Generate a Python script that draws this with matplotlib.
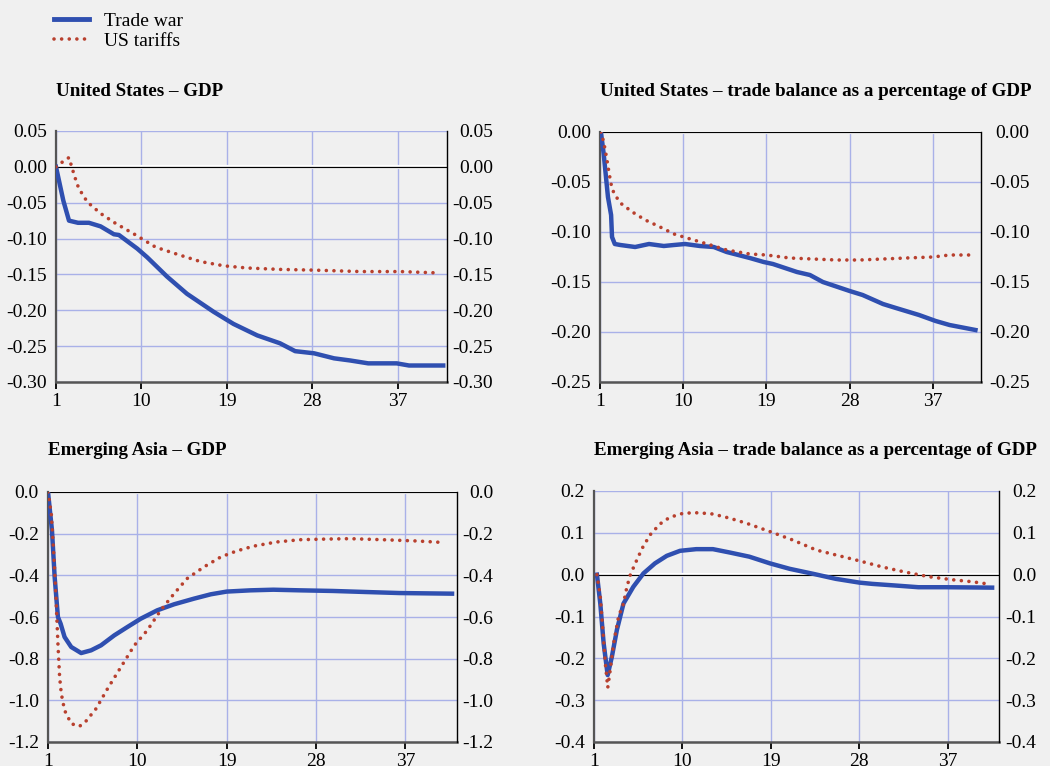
import matplotlib
matplotlib.use("Agg")
import matplotlib.pyplot as plt
from matplotlib.ticker import FixedLocator, FormatStrFormatter
from matplotlib.lines import Line2D

plt.rcParams["font.family"] = ["Liberation Serif", "DejaVu Serif"]
plt.rcParams["axes.unicode_minus"] = False

BG = "#f0f0f0"
BLUE = "#2f4fb0"
RED = "#b8402e"
GRID = "#a9b1e8"
DOTS = (0, (0.01, 2.1))

# ---- United States - GDP ------------------------------------------------
us_gdp_war_x = [1.0, 1.77, 2.37, 3.32, 4.47, 5.7, 7.1, 7.63, 9.56, 10.6, 12.7, 14.8,
                17.6, 19.7, 22.2, 24.6, 26.2, 28.2, 30.3, 32.0, 33.9, 36.9, 38.2, 41.8]
us_gdp_war_y = [0.0, -0.047, -0.075, -0.078, -0.078, -0.083, -0.094, -0.095, -0.114,
                -0.126, -0.153, -0.177, -0.202, -0.219, -0.235, -0.246, -0.257, -0.260,
                -0.267, -0.270, -0.274, -0.274, -0.277, -0.277]
us_gdp_tar_x = [1.0, 1.8, 2.37, 2.7, 3.15, 3.4, 4.3, 5.7, 7.3, 9.4, 11.5, 13.8, 16.2,
                18.7, 21.1, 24.6, 28.2, 33.1, 37.3, 41.5]
us_gdp_tar_y = [0.0, 0.008, 0.013, -0.002, -0.021, -0.030, -0.049, -0.065, -0.079,
                -0.095, -0.112, -0.122, -0.132, -0.138, -0.141, -0.143, -0.144, -0.146,
                -0.146, -0.148]

# ---- United States - trade balance ---------------------------------------
us_tb_war_x = [1.1, 1.4, 1.86, 2.2, 2.3, 2.6, 3.2, 4.8, 6.3, 7.9, 9.0, 10.2, 11.8, 13.3,
               14.7, 17.2, 18.7, 19.7, 22.3, 23.7, 25.1, 28.0, 29.4, 31.6, 33.0, 35.5,
               37.3, 38.8, 41.6]
us_tb_war_y = [0.0, -0.022, -0.065, -0.083, -0.105, -0.112, -0.113, -0.115, -0.112,
               -0.114, -0.113, -0.112, -0.114, -0.115, -0.120, -0.126, -0.130, -0.132,
               -0.140, -0.143, -0.150, -0.159, -0.163, -0.172, -0.176, -0.183, -0.189,
               -0.193, -0.198]
us_tb_tar_x = [1.1, 1.4, 1.7, 2.0, 2.3, 2.7, 3.2, 4.5, 5.9, 7.5, 9.0, 10.4, 12.6, 14.7,
               17.2, 19.0, 21.5, 24.0, 26.6, 29.1, 31.6, 34.1, 37.0, 38.8, 41.3]
us_tb_tar_y = [0.0, -0.010, -0.025, -0.042, -0.057, -0.064, -0.071, -0.080, -0.088,
               -0.095, -0.102, -0.106, -0.112, -0.118, -0.122, -0.123, -0.126, -0.127,
               -0.128, -0.128, -0.127, -0.126, -0.125, -0.123, -0.123]

# ---- Emerging Asia - GDP ----------------------------------------------------
ea_gdp_war_x = [1.0, 1.4, 1.67, 2.0, 2.27, 2.67, 3.34, 4.34, 5.34, 6.34, 7.68, 9.0,
                10.35, 12.0, 13.7, 15.7, 17.4, 19.0, 21.4, 23.7, 26.4, 29.7, 33.0, 36.4, 41.7]
ea_gdp_war_y = [0.0, -0.184, -0.408, -0.600, -0.632, -0.696, -0.744, -0.773, -0.760,
                -0.736, -0.688, -0.648, -0.608, -0.568, -0.539, -0.512, -0.491, -0.478,
                -0.472, -0.469, -0.472, -0.475, -0.480, -0.485, -0.488]
ea_gdp_tar_x = [1.0, 1.33, 1.5, 1.67, 1.83, 2.0, 2.17, 2.34, 2.67, 3.34, 4.17, 4.84, 5.84,
                7.0, 8.35, 9.7, 11.0, 12.35, 13.7, 15.0, 16.7, 18.4, 20.0, 21.7, 24.0,
                26.4, 29.0, 31.4, 34.7, 38.1, 40.7]
ea_gdp_tar_y = [0.0, -0.104, -0.232, -0.376, -0.536, -0.728, -0.888, -0.968, -1.048,
                -1.112, -1.125, -1.099, -1.040, -0.944, -0.840, -0.736, -0.664, -0.568,
                -0.488, -0.416, -0.360, -0.312, -0.283, -0.260, -0.240, -0.229, -0.226,
                -0.224, -0.229, -0.235, -0.242]

# ---- Emerging Asia - trade balance -------------------------------------------
ea_tb_war_x = [1.3, 1.64, 1.98, 2.39, 2.82, 3.33, 4.0, 5.0, 6.03, 7.2, 8.4, 9.75, 11.4,
               13.1, 14.8, 16.8, 18.9, 20.9, 23.3, 25.6, 28.0, 29.3, 31.7, 34.0, 36.8, 41.5]
ea_tb_war_y = [0.0, -0.069, -0.164, -0.240, -0.196, -0.132, -0.069, -0.029, 0.003, 0.027,
               0.045, 0.057, 0.061, 0.061, 0.053, 0.043, 0.027, 0.014, 0.002, -0.010,
               -0.019, -0.022, -0.026, -0.030, -0.030, -0.031]
ea_tb_tar_x = [1.3, 1.64, 1.9, 2.15, 2.4, 2.65, 3.0, 3.5, 4.0, 4.35, 4.7, 5.2, 5.9, 6.7,
               7.7, 8.7, 10.1, 11.6, 13.1, 14.8, 16.5, 18.9, 21.2, 23.6, 26.3, 28.0, 30.4,
               32.7, 35.1, 37.4, 39.5, 40.7]
ea_tb_tar_y = [0.0, -0.053, -0.132, -0.212, -0.270, -0.228, -0.164, -0.100, -0.069,
               -0.029, 0.0, 0.027, 0.063, 0.095, 0.121, 0.137, 0.147, 0.148, 0.145, 0.135,
               0.123, 0.103, 0.083, 0.059, 0.043, 0.033, 0.018, 0.006, -0.005, -0.012,
               -0.017, -0.021]

x_ticks = [1, 10, 19, 28, 37]

panels = [
    # title, axes box in px (left, top, right, bottom), ylim, step, fmt,
    # title x, title align, title y, right label pad
    ("United States \u2013 GDP", (56, 131, 447, 382), (-0.30, 0.05), 0.05, "%.2f",
     56, "left", 91, 33,
     (us_gdp_war_x, us_gdp_war_y), (us_gdp_tar_x, us_gdp_tar_y)),
    ("United States \u2013 trade balance as a percentage of GDP", (600, 132, 981, 382),
     (-0.25, 0.0), 0.05, "%.2f", 1031, "right", 91, 35,
     (us_tb_war_x, us_tb_war_y), (us_tb_tar_x, us_tb_tar_y)),
    ("Emerging Asia \u2013 GDP", (48, 492, 457, 742), (-1.2, 0.0), 0.2, "%.1f",
     48, "left", 450, 26,
     (ea_gdp_war_x, ea_gdp_war_y), (ea_gdp_tar_x, ea_gdp_tar_y)),
    ("Emerging Asia \u2013 trade balance as a percentage of GDP", (594, 491, 999, 742),
     (-0.4, 0.2), 0.1, "%.1f", 1037, "right", 450, 27,
     (ea_tb_war_x, ea_tb_war_y), (ea_tb_tar_x, ea_tb_tar_y)),
]

W, H = 1050, 766
fig = plt.figure(figsize=(W / 100, H / 100), dpi=100, facecolor=BG)

for title, (l, t, r, b), ylim, step, fmt, tx, ha, ty, rpad, war, tar in panels:
    ax = fig.add_axes([l / W, 1 - b / H, (r - l) / W, (b - t) / H])
    ax.set_facecolor(BG)
    n = int(round((ylim[1] - ylim[0]) / step))
    yt = [ylim[0] + i * step for i in range(n + 1)]
    ax.set_xlim(1, 42.2)
    ax.set_ylim(*ylim)
    ax.xaxis.set_major_locator(FixedLocator(x_ticks))
    ax.yaxis.set_major_locator(FixedLocator(yt))
    ax.yaxis.set_major_formatter(FormatStrFormatter(fmt))
    ax.grid(True, color=GRID, lw=1, zorder=0)
    ax.set_axisbelow(True)

    # zero line: white band with a thin black line
    ax.axhline(0, color="white", lw=3, zorder=1.5)
    ax.axhline(0, color="black", lw=0.9, zorder=1.6)

    ax.plot(war[0], war[1], color=BLUE, lw=3.2, zorder=3, solid_joinstyle="round")
    ax.plot(tar[0], tar[1], color=RED, lw=2.6, linestyle=DOTS,
            dash_capstyle="round", zorder=4)

    for s in ("top", "right"):
        ax.spines[s].set_visible(False)
    ax.spines["left"].set_color("#555555")
    ax.spines["left"].set_linewidth(1.6)
    ax.spines["bottom"].set_color("#555555")
    ax.spines["bottom"].set_linewidth(1.8)
    ax.tick_params(axis="y", length=0, pad=6.5, labelsize=14)
    ax.tick_params(axis="x", length=5, width=1.3, direction="out", pad=3,
                   labelsize=14, color="black")

    ax2 = ax.twinx()
    ax2.set_ylim(*ylim)
    ax2.yaxis.set_major_locator(FixedLocator(yt))
    ax2.yaxis.set_major_formatter(FormatStrFormatter(fmt))
    ax2.tick_params(axis="y", length=0, pad=rpad, labelsize=14)
    for lbl in ax2.get_yticklabels():
        lbl.set_horizontalalignment("right")
    for s in ("top", "left", "bottom"):
        ax2.spines[s].set_visible(False)
    ax2.spines["right"].set_color("black")
    ax2.spines["right"].set_linewidth(1.0)

    fig.text(tx / W, 1 - ty / H, title, ha=ha, va="center", fontsize=13.7,
             fontweight="bold")

handles = [Line2D([], [], color=BLUE, lw=3.5),
           Line2D([], [], color=RED, lw=2.6, linestyle=DOTS, dash_capstyle="round")]
fig.legend(handles, ["Trade war", "US tariffs"], loc="upper left",
           bbox_to_anchor=(54 / W, 1 - 12 / H), frameon=False, fontsize=14,
           handlelength=1.8, handletextpad=0.77, labelspacing=0.15,
           borderpad=0, borderaxespad=0)

fig.savefig("out.png", dpi=100, facecolor=BG)
